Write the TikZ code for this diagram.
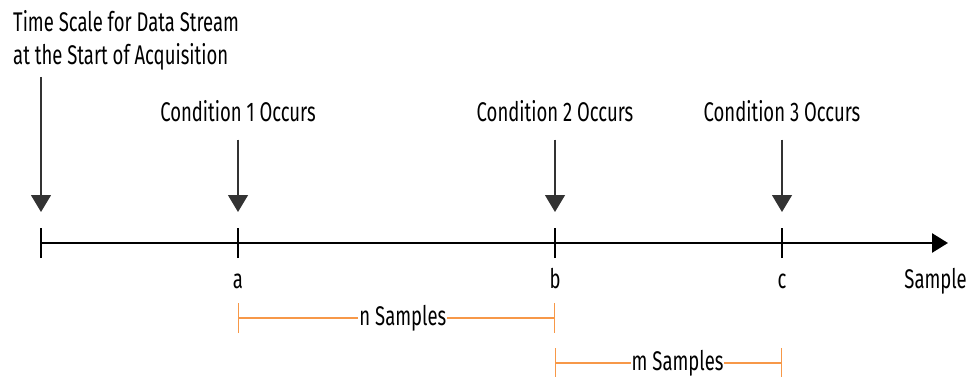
\documentclass[tikz,border=0pt]{standalone}
\usepackage{fontspec}
\setmainfont{Fira Sans}[FakeStretch=0.685]
\usepackage{xcolor}
\usetikzlibrary{arrows.meta, positioning}
\definecolor{spanorange}{RGB}{247,152,72}

\begin{document}
\begin{tikzpicture}[x=1pt,y=-1pt,
    font=\fontsize{27}{33}\selectfont,
    event/.style={draw=black!80,line width=1.2pt,-{Triangle[width=20pt,length=17pt]}},
    tick/.style={draw,line width=2.8pt},
    span/.style={draw=spanorange,line width=1.4pt,{Bar[width=30pt]}-{Bar[width=30pt]}},
    spanlabel/.style={fill=white,inner sep=1pt}]
    \useasboundingbox (0,0) rectangle (972,377);

    % sample points on the axis
    \coordinate (t0) at (41,243);
    \coordinate (ta) at (238,243);
    \coordinate (tb) at (555,243);
    \coordinate (tc) at (782,243);
    \coordinate (tend) at (948,243);

    % axis and ticks
    \draw[line width=2.8pt,-{Triangle[width=19pt,length=16pt]}] (t0) -- (tend);
    \foreach \t in {t0,ta,tb,tc}
        \draw[tick] ([yshift=-15pt]\t) -- ([yshift=15pt]\t);

    % event labels
    \node[anchor=base west,align=left,inner sep=3pt] (start) at (10,65)
        {Time Scale for Data Stream\\at the Start of Acquisition};
    \node[anchor=base,inner sep=3pt] (cond1) at (238,122) {Condition 1 Occurs};
    \node[anchor=base,inner sep=3pt] (cond2) at (555,122) {Condition 2 Occurs};
    \node[anchor=base,inner sep=3pt] (cond3) at (782,122) {Condition 3 Occurs};

    % event arrows
    \draw[event] ([yshift=-3pt]start.south -| t0) -- ([yshift=31pt]t0);
    \foreach \c/\t in {cond1/ta,cond2/tb,cond3/tc}
        \draw[event] ([yshift=-14pt]\c.south) -- ([yshift=31pt]\t);

    % point labels
    \node[anchor=base] (la) at (238,288) {a};
    \node[anchor=base] (lb) at (555,288) {b};
    \node[anchor=base] (lc) at (782,288) {c};
    \node[anchor=base east,inner sep=0pt] (sample) at (967,288) {Sample};

    % sample spans
    \coordinate (na) at (238,318);
    \coordinate (nb) at (555,318);
    \coordinate (ma) at (555,363);
    \coordinate (mb) at (782,363);
    \draw[span] (na) -- node[spanlabel,pos=0.52] {n Samples} (nb);
    \draw[span] (ma) -- node[spanlabel,pos=0.54] {m Samples} (mb);
\end{tikzpicture}
\end{document}
